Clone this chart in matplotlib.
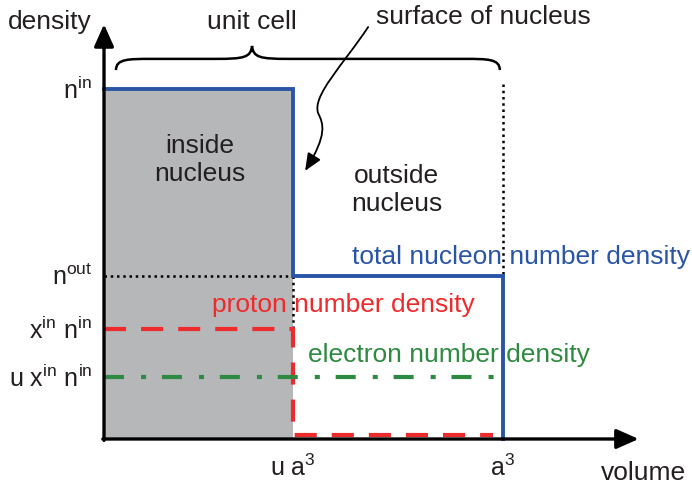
import numpy as np
import matplotlib
matplotlib.use('Agg')
import matplotlib.pyplot as plt
from matplotlib.path import Path
from matplotlib.patches import PathPatch, FancyArrowPatch

plt.rcParams['font.family'] = ['Liberation Sans', 'DejaVu Sans']
plt.rcParams['mathtext.fontset'] = 'custom'
plt.rcParams['mathtext.rm'] = 'Liberation Sans'
plt.rcParams['mathtext.it'] = 'Liberation Sans'

# schematic values (volume in units of a^3, density in units of n_in)
u = 0.474          # nucleus volume fraction -> u a^3
a3 = 1.0
n_in = 1.0
n_out = 0.466
xn_in = 0.314      # proton density inside
uxn_in = 0.177     # electron density
p_out = 0.011      # proton density outside

# tick labels
y_ticks = [n_in, n_out, xn_in, uxn_in]
y_labels = [r'n$^{\rm in}$', r'n$^{\rm out}$', r'x$^{\rm in}$ n$^{\rm in}$', r'u x$^{\rm in}$ n$^{\rm in}$']
x_ticks = [u, a3]
x_labels = [r'u a$^3$', r'a$^3$']

txt = '#231f20'
blue = '#2a55a6'
red = '#ee2b2c'
green = '#2f8a41'
gray = '#b6b7b9'

fig = plt.figure(figsize=(6.92, 4.85), dpi=100)
ax = fig.add_axes([0, 0, 1, 1])
ax.set_xlim(-0.2607, 1.4737)
ax.set_ylim(-0.1286, 1.2571)
ax.axis('off')

# inside nucleus region
ax.fill_between([0, u], 0, n_in, color=gray, lw=0, zorder=1)

# total nucleon density
ax.plot([0, u, u, a3, a3], [n_in, n_in, n_out, n_out, 0], color=blue, lw=2.8,
        solid_joinstyle='miter', zorder=3)

# proton density
ax.plot([0, u, u, 0.975], [xn_in, xn_in, p_out, p_out], color=red, lw=3,
        dashes=(5.3, 3.6), zorder=4)

# electron density
ax.plot([0, 0.995], [uxn_in, uxn_in], color=green, lw=3,
        dashes=(4.8, 4.1, 1.2, 3.8), zorder=4)

# dotted guides
dot = dict(color='k', lw=1.8, linestyle=(0, (1, 1.5)), zorder=2)
ax.plot([0, u], [n_out, n_out], **dot)
ax.plot([u, u], [n_out, xn_in], **dot)
ax.plot([a3, a3], [1.014, n_out], **dot)

# axes arrows
arr = dict(arrowstyle='-|>,head_length=0.9,head_width=0.4', lw=2.4, color='k',
           mutation_scale=15, shrinkA=0, shrinkB=0)
ax.annotate('', xy=(0, 1.185), xytext=(0, -0.004), arrowprops=arr, zorder=5)
ax.annotate('', xy=(1.34, 0), xytext=(-0.003, 0), arrowprops=arr, zorder=5)

fs = 19
for yv, lab in zip(y_ticks, y_labels):
    ax.text(-0.03, yv, lab, ha='right', va='center', fontsize=18, color=txt)
for xv, lab in zip(x_ticks, x_labels):
    ax.text(xv, -0.08, lab, ha='center', va='center', fontsize=18, color=txt)

ax.text(1.351, -0.094, 'volume', ha='center', va='center', fontsize=fs, color=txt)
ax.text(-0.135, 1.194, 'density', ha='center', va='center', fontsize=fs, color=txt)
ax.text(0.371, 1.194, 'unit cell', ha='center', va='center', fontsize=fs, color=txt)
ax.text(0.952, 1.209, 'surface of nucleus', ha='center', va='center', fontsize=fs, color=txt)
ax.text(0.241, 0.80, 'inside\nnucleus', ha='center', va='center', fontsize=fs,
        color=txt, linespacing=1.2)
ax.text(0.734, 0.714, 'outside\nnucleus', ha='center', va='center', fontsize=fs,
        color=txt, linespacing=1.2)
ax.text(0.622, 0.523, 'total nucleon number density', ha='left', va='center',
        fontsize=fs, color=blue)
ax.text(0.271, 0.386, 'proton number density', ha='left', va='center',
        fontsize=fs, color=red)
ax.text(0.511, 0.243, 'electron number density', ha='left', va='center',
        fontsize=fs, color=green)

# curly brace over unit cell
x0, xm, x1 = 0.030, 0.371, 0.992
yb, yh, yt = 1.054, 1.086, 1.123
verts = [(x0, yb),
         (x0, yh), (x0 + 0.03, yh), (x0 + 0.09, yh),
         (xm - 0.09, yh),
         (xm - 0.02, yh), (xm - 0.003, yh + 0.004), (xm, yt),
         (xm + 0.003, yh + 0.004), (xm + 0.02, yh), (xm + 0.09, yh),
         (x1 - 0.09, yh),
         (x1 - 0.03, yh), (x1, yh), (x1, yb)]
codes = [Path.MOVETO,
         Path.CURVE4, Path.CURVE4, Path.CURVE4,
         Path.LINETO,
         Path.CURVE4, Path.CURVE4, Path.CURVE4,
         Path.CURVE4, Path.CURVE4, Path.CURVE4,
         Path.LINETO,
         Path.CURVE4, Path.CURVE4, Path.CURVE4]
ax.add_patch(PathPatch(Path(verts, codes), fill=False, lw=1.8, color='k', zorder=5))

# wavy arrow pointing to surface
wverts = [(0.662, 1.177), (0.60, 1.07), (0.52, 0.98), (0.537, 0.93),
          (0.55, 0.90), (0.56, 0.87), (0.504, 0.766)]
wcodes = [Path.MOVETO, Path.CURVE4, Path.CURVE4, Path.CURVE4,
          Path.CURVE4, Path.CURVE4, Path.CURVE4]
ax.add_patch(FancyArrowPatch(path=Path(wverts, wcodes),
                             arrowstyle='-|>,head_length=0.7,head_width=0.3',
                             mutation_scale=15, lw=1.3, color='k', zorder=5))

fig.savefig('out.png', dpi=100)
